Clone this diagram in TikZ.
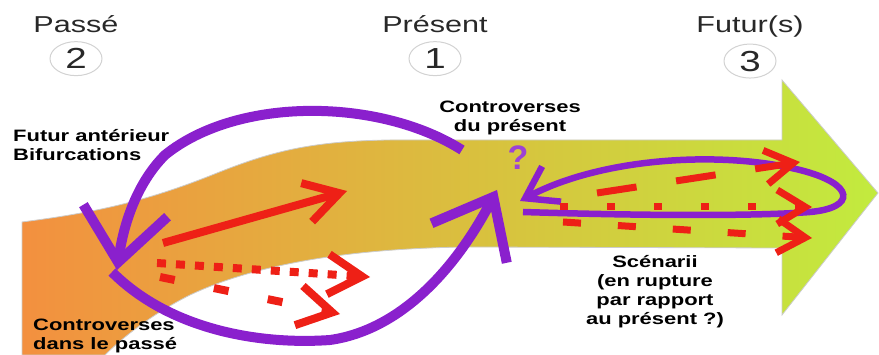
\documentclass[tikz,border=0pt]{standalone}
\usepackage{fontspec}
\setmainfont{Liberation Sans}
\newfontfamily\widesans[FakeStretch=1.33]{Liberation Sans}
\usepackage{tikz}
\usetikzlibrary{shapes.geometric, arrows.meta, positioning}
\definecolor{violetarc}{RGB}{138,32,205}
\definecolor{redarr}{RGB}{238,32,22}
\definecolor{bandleft}{RGB}{243,144,63}
\definecolor{bandmid}{RGB}{222,180,60}
\definecolor{bandright}{RGB}{194,235,62}
\definecolor{labelgray}{RGB}{40,40,40}
\tikzstyle{timelabel} = [text=labelgray, font=\widesans\fontsize{23}{26}\selectfont, anchor=base]
\tikzstyle{numcircle} = [ellipse, draw=gray!35, line width=1pt, minimum width=52pt, minimum height=34pt, inner sep=0pt, text=labelgray, font=\widesans\fontsize{29}{30}\selectfont]
\tikzstyle{note} = [font=\widesans\bfseries\fontsize{16.5}{19}\selectfont, text=black, inner sep=0pt]
\tikzstyle{loop} = [violetarc, line width=10pt, -{Straight Barb[length=52pt, width=85pt]}]
\tikzstyle{smallloop} = [violetarc, line width=6.5pt, -{Straight Barb[length=30pt, width=40pt]}]
\tikzstyle{redarrow} = [redarr, line width=8pt, -{Straight Barb[length=34pt, width=40pt]}]
\tikzstyle{smallred} = [redarr, line width=7pt, -{Straight Barb[length=28pt, width=34pt]}]

\begin{document}
\begin{tikzpicture}[x=1pt, y=-1pt, node distance=34pt]
\useasboundingbox (0,0) rectangle (879,355);
\shade[left color=bandleft, middle color=bandmid, right color=bandright, draw=gray!40, line width=0.8pt]
  (22,222) .. controls (100,212) and (150,200) .. (217,173) .. controls (270,152) and (310,141) .. (390,140)
  -- (782,140) -- (782,80) -- (878,193) -- (782,315) -- (782,248) -- (470,247)
  .. controls (360,248) and (260,262) .. (190,295) .. controls (150,315) and (120,340) .. (105,355)
  -- (22,355) -- cycle;

\node (passe) [timelabel] at (76,33) {Passé};
\node (n2) [numcircle, below of=passe] {2};
\node (present) [timelabel] at (435,33) {Présent};
\node (n1) [numcircle, below of=present] {1};
\node (futur) [timelabel] at (750,33) {Futur(s)};
\node (n3) [numcircle, below of=futur] {3};

\coordinate (arcstart) at (462,150);
\coordinate (pasttip) at (117,270);
\coordinate (pastfoot) at (112,272);
\coordinate (presenttip) at (497,190);
\coordinate (loopstart) at (523,212);
\coordinate (looptip) at (520,201);

\draw [loop] (arcstart) .. controls (380,98) and (238,96) .. (165,155) .. controls (135,185) and (123,228) .. (pasttip);
\draw [loop] (pastfoot) .. controls (170,330) and (260,345) .. (330,340) .. controls (400,330) and (455,270) .. (presenttip);
\draw [smallloop] (loopstart) .. controls (650,216) and (760,216) .. (810,212) .. controls (856,208) and (856,184) .. (800,170) .. controls (720,150) and (600,158) .. (looptip);

\coordinate (ra0) at (163,243);
\coordinate (ra1) at (347,191);
\coordinate (rb0) at (157,263);
\coordinate (rb1) at (370,277);
\coordinate (rc0) at (160,277);
\coordinate (rc1) at (340,314);
\coordinate (rd0) at (597,193);
\coordinate (rd1) at (800,162);
\coordinate (re0) at (560,207);
\coordinate (re1) at (812,207);
\coordinate (rf0) at (563,222);
\coordinate (rf1) at (812,238);

\draw [redarrow] (ra0) -- (ra1);
\draw [redarrow, dash pattern=on 9pt off 10pt] (rb0) -- (rb1);
\draw [redarrow, dash pattern=on 15pt off 40pt] (rc0) -- (rc1);
\draw [smallred, dash pattern=on 40pt off 40pt] (rd0) -- (rd1);
\draw [smallred, dash pattern=on 8pt off 39pt] (re0) -- (re1);
\draw [smallred, dash pattern=on 18pt off 37pt] (rf0) -- (rf1);

\node (futant) [note, align=left, anchor=north west] at (13,129) {Futur antérieur\\Bifurcations};
\node (contpasse) [note, align=left, anchor=north west] at (33,319) {Controverses\\dans le passé};
\node (contpres) [note, align=center, anchor=north] at (510,101) {Controverses\\du présent};
\node (question) [text=violetarc!85, font=\bfseries\fontsize{34}{34}\selectfont, inner sep=0pt] at (518,158) {?};
\node (scenarii) [note, align=center, anchor=north] at (655,255) {Scénarii\\(en rupture\\par rapport\\au présent ?)};
\end{tikzpicture}
\end{document}
